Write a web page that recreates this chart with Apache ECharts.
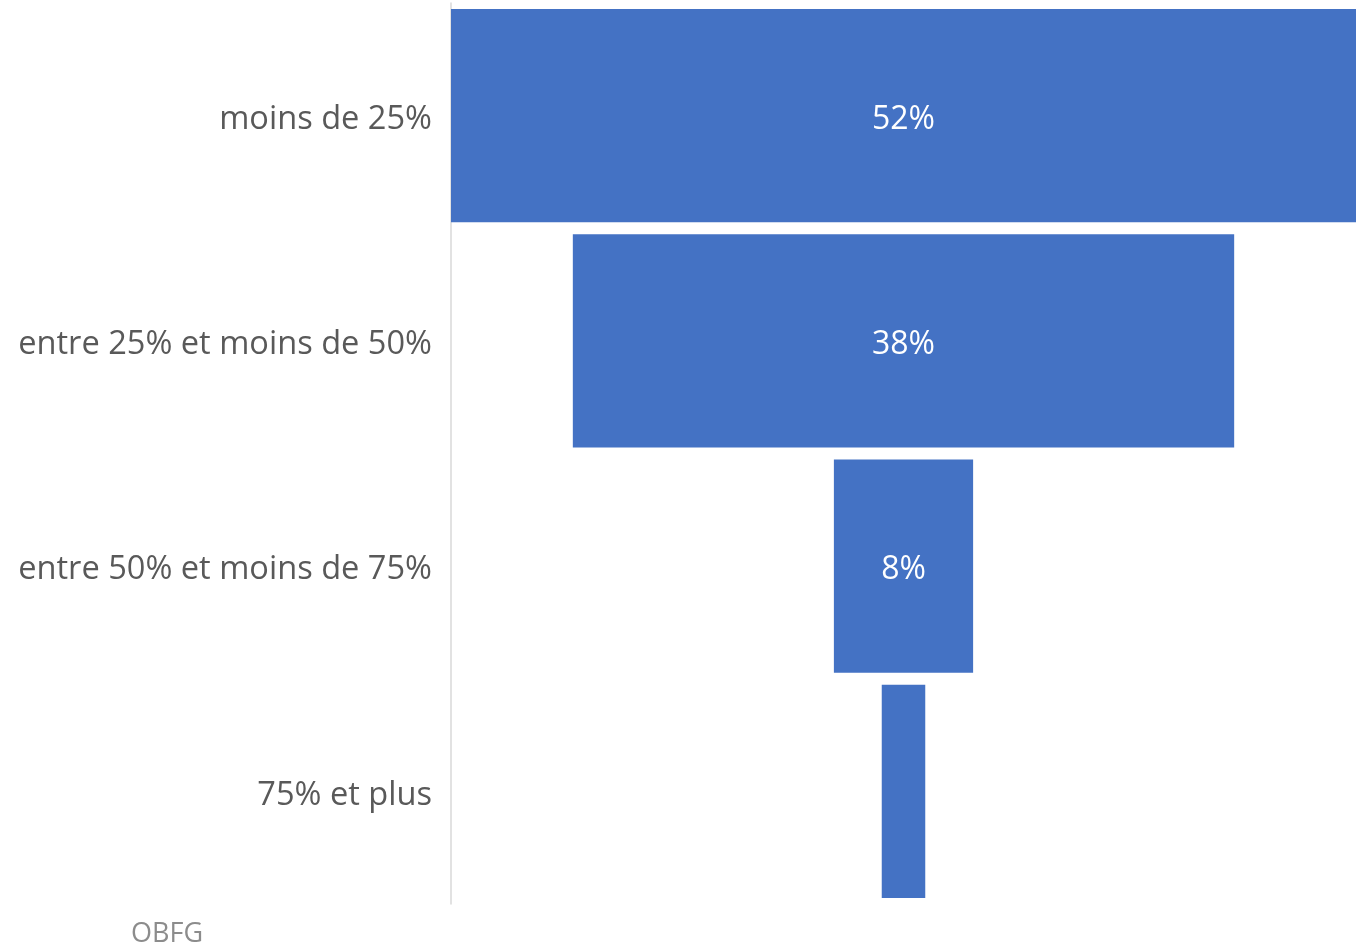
<!DOCTYPE html>
<html>
<head>
<meta charset="utf-8">
<style>
  html, body { margin: 0; padding: 0; background: #ffffff; }
  #chart { width: 1370px; height: 945px; }
</style>
<script src="https://cdn.jsdelivr.net/npm/echarts@6/dist/echarts.min.js"></script>
</head>
<body>
<div id="chart"></div>
<script>
// Funnel categories, top to bottom
const categories = ['moins de 25%', 'entre 25% et moins de 50%', 'entre 50% et moins de 75%', '75% et plus'];
// Share of each class (%)
const values = [52, 38, 8, 2.5];
// Data labels shown inside the bars (the smallest bar carries none)
const valueLabels = ['52%', '38%', '8%', ''];

const maxValue = Math.max(...values);
// Invisible spacer so that each bar sits centred on the funnel axis
const spacer = values.map(v => (maxValue - v) / 2);

const FONT = '"Open Sans", "Noto Sans", sans-serif';

const chart = echarts.init(document.getElementById('chart'));
chart.setOption({
  animation: false,
  backgroundColor: '#ffffff',
  textStyle: { fontFamily: FONT },
  grid: { left: 451, right: 14, top: 3, bottom: 41, containLabel: false },
  xAxis: {
    type: 'value', min: 0, max: maxValue, show: false
  },
  yAxis: {
    type: 'category',
    data: categories,
    inverse: true,
    axisLine: { show: true, lineStyle: { color: '#d9d9d9', width: 1.5 } },
    axisTick: { show: false },
    axisLabel: {
      color: '#595959', fontSize: 32.6, margin: 19, fontFamily: FONT,
      formatter: v => '{c|' + v + '}',
      rich: {
        c: { color: '#595959', fontSize: 32.6, fontFamily: FONT, padding: [8, 0, 0, 0] }
      }
    }
  },
  series: [
    {
      type: 'bar', stack: 'funnel', data: spacer,
      itemStyle: { color: 'transparent' },
      barCategoryGap: '5.4%', silent: true
    },
    {
      type: 'bar', stack: 'funnel', data: values,
      barCategoryGap: '5.4%',
      itemStyle: { color: '#4472C4' },
      label: {
        show: true, position: 'inside', color: '#ffffff', fontSize: 32,
        fontFamily: FONT, offset: [0, 4],
        formatter: p => valueLabels[p.dataIndex]
      }
    }
  ],
  graphic: [
    {
      type: 'text', left: 131, top: 921,
      style: { text: 'OBFG', fill: '#8c8c8c', fontSize: 27, fontFamily: FONT }
    }
  ]
});
</script>
</body>
</html>
